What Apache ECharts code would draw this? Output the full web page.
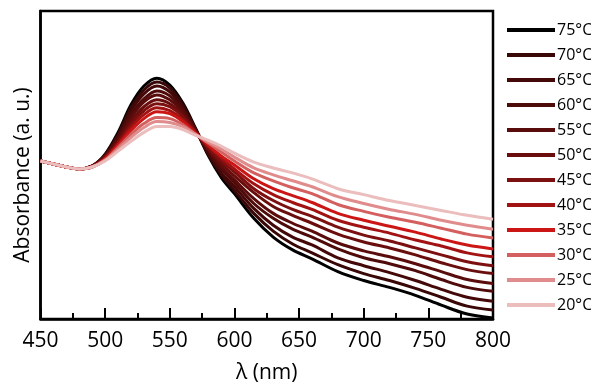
<!DOCTYPE html>
<html><head><meta charset="utf-8">
<script src="https://cdn.jsdelivr.net/npm/echarts@6/dist/echarts.min.js"></script>
<style>html,body{margin:0;padding:0;background:#fff}#c{width:591px;height:389px}</style>
</head><body><div id="c"></div>
<script>
const wavelengths = [450,460,470,480,490,500,510,520,530,540,550,560,570,580,590,600,615,630,645,660,680,700,720,740,760,780,800];
const names = ['75°C','70°C','65°C','60°C','55°C','50°C','45°C','40°C','35°C','30°C','25°C','20°C'];
const colors = ['#000000','#3a0707','#440808','#4f0a0a','#5a0b0b','#690d0d','#7c0f0f','#a31212','#cc1616','#d45f5f','#e08c8c','#ebbdbd'];
const a75 = [160,157,154,152,155,167,189,217,236,244,237,219,193,165,143,127,102,83,70,61,48,39,32,24,14,5,1];
const a70 = [160,157,154,152,155,166,187,214,232,240,234,217,192,166,146,130,107,89,76,67,55,46,39,31,22,13,9];
const a65 = [160,157,154,152,155,166,186,211,228,236,230,214,192,168,148,134,112,95,83,75,62,54,47,39,30,22,18];
const a60 = [160,157,154,152,155,165,184,207,223,231,226,212,191,169,152,138,117,102,91,83,71,62,56,49,40,32,28];
const a55 = [160,157,154,152,155,165,182,204,220,227,222,210,191,171,154,141,122,107,97,89,77,69,63,56,48,40,36];
const a50 = [160,157,154,152,155,164,180,200,215,222,218,207,190,172,157,145,128,114,105,97,86,78,72,65,57,50,46];
const a45 = [160,157,154,152,154,163,179,197,211,218,215,205,189,173,160,149,132,120,111,104,93,85,79,72,65,58,54];
const a40 = [160,157,154,152,154,163,177,194,207,214,211,202,189,175,163,152,137,126,118,111,100,93,87,80,74,67,63];
const a35 = [160,157,154,152,154,162,176,191,203,210,208,200,188,176,165,156,142,132,125,118,107,100,94,88,81,75,71];
const a30 = [160,157,154,152,154,161,174,187,198,204,203,197,187,178,169,160,148,140,133,127,116,109,103,98,92,86,82];
const a25 = [160,157,154,152,154,161,172,184,194,200,199,195,187,179,172,164,153,146,140,134,124,117,111,106,100,95,91];
const a20 = [160,157,154,152,154,160,170,180,189,195,195,192,186,181,175,168,159,153,148,142,132,126,120,115,110,105,101];
const allSeries = [a75,a70,a65,a60,a55,a50,a45,a40,a35,a30,a25,a20];
const xTicks = [450,500,550,600,650,700,750,800];
const xTitle = 'λ (nm)';
const yTitle = 'Absorbance (a. u.)';

const chart = echarts.init(document.getElementById('c'), null, {renderer:'canvas'});
const FONT = 'Open Sans';
chart.setOption({
  animation:false,
  grid:{left:40.5,right:98,top:11,bottom:66,show:true,borderColor:'#000',borderWidth:2.5,backgroundColor:'transparent'},
  legend:{
    orient:'vertical', left:502, top:16, icon:'rect', itemWidth:48, itemHeight:4, itemGap:7,
    textStyle:{fontFamily:FONT,fontSize:16,color:'#000',lineHeight:18,padding:[0,0,0,-3]},
    data:names
  },
  xAxis:{
    type:'value', min:450, max:800, interval:50,
    name:xTitle, nameLocation:'middle', nameGap:44,
    nameTextStyle:{fontFamily:FONT,fontSize:21,color:'#000'},
    axisLine:{lineStyle:{color:'#000',width:2.5}},
    axisTick:{inside:true,length:11,lineStyle:{color:'#000',width:2}},
    minorTick:{show:true,splitNumber:2,length:6,lineStyle:{color:'#000',width:2}},
    axisLabel:{fontFamily:FONT,fontSize:21,color:'#000',margin:12,
      formatter:v=>xTicks.includes(v)?String(v):''},
    splitLine:{show:false}
  },
  yAxis:{
    type:'value', min:0, max:312,
    axisLine:{show:true,lineStyle:{color:'#000',width:2.5}},
    axisTick:{show:false}, axisLabel:{show:false}, splitLine:{show:false}
  },
  graphic:[{type:'text', x:23, y:175, rotation:Math.PI/2,
    style:{text:yTitle, fontFamily:FONT, fontSize:21, fill:'#000', align:'center', verticalAlign:'middle'}}],
  series: allSeries.map((arr,i)=>({
    name:names[i], type:'line', smooth:0.35, showSymbol:false,
    lineStyle:{color:colors[i],width:3}, itemStyle:{color:colors[i]},
    data: wavelengths.map((w,j)=>[w,arr[j]])
  }))
});
</script></body></html>
